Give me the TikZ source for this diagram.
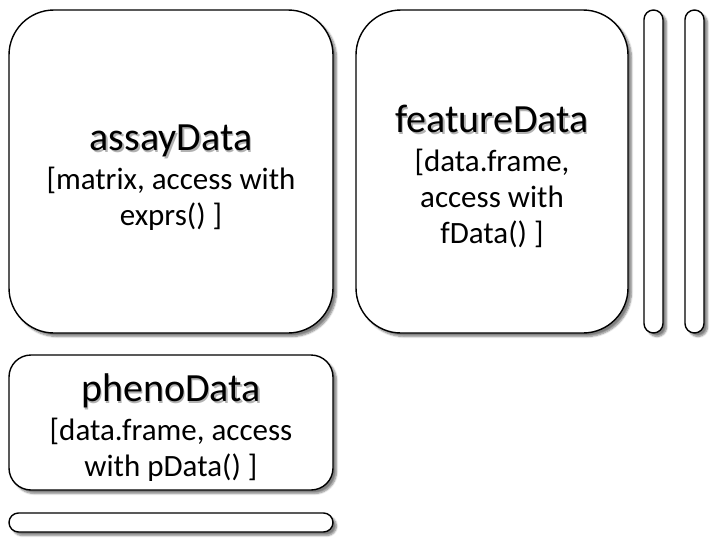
\documentclass[tikz,border=0pt]{standalone}
\usepackage{fontspec}
\setmainfont{Carlito}
\usetikzlibrary{shadows.blur}
\newcommand\shtitle[1]{{\fontsize{40}{42}\selectfont\leavevmode\rule{0pt}{38pt}\rlap{\kern1.5pt\raisebox{-1.5pt}{\textcolor{black!30}{#1}}}#1}}
\tikzset{
  slot/.style={draw, line width=1.4pt, fill=white, inner sep=0pt, align=center,
    font=\fontsize{31}{36}\selectfont,
    blur shadow={shadow xshift=3.5pt, shadow yshift=-3.5pt, shadow blur steps=6, shadow opacity=50}},
}
\begin{document}
\begin{tikzpicture}[x=1pt, y=-1pt]
  \useasboundingbox (0,0) rectangle (723,549);
  \node[slot, rounded corners=45pt, minimum width=324pt, minimum height=323pt] (assay) at (171,171.5)
    {\shtitle{assayData}\\[3pt][matrix, access with\\exprs() ]};
  \node[slot, rounded corners=45pt, minimum width=272pt, minimum height=323pt] (feature) at (492,171.5)
    {\shtitle{featureData}\\[3pt][data.frame,\\access with\\fData() ]};
  \node[slot, rounded corners=9.5pt, minimum width=19pt, minimum height=323pt] (fbar1) at (653.5,171.5) {};
  \node[slot, rounded corners=9.5pt, minimum width=19pt, minimum height=323pt] (fbar2) at (694.5,171.5) {};
  \node[slot, rounded corners=22pt, minimum width=324pt, minimum height=135pt] (pheno) at (171,422.5)
    {\shtitle{phenoData}\\[3pt][data.frame, access\\with pData() ]};
  \node[slot, rounded corners=9.5pt, minimum width=324pt, minimum height=19pt] (pbar) at (171,522.5) {};
\end{tikzpicture}
\end{document}
